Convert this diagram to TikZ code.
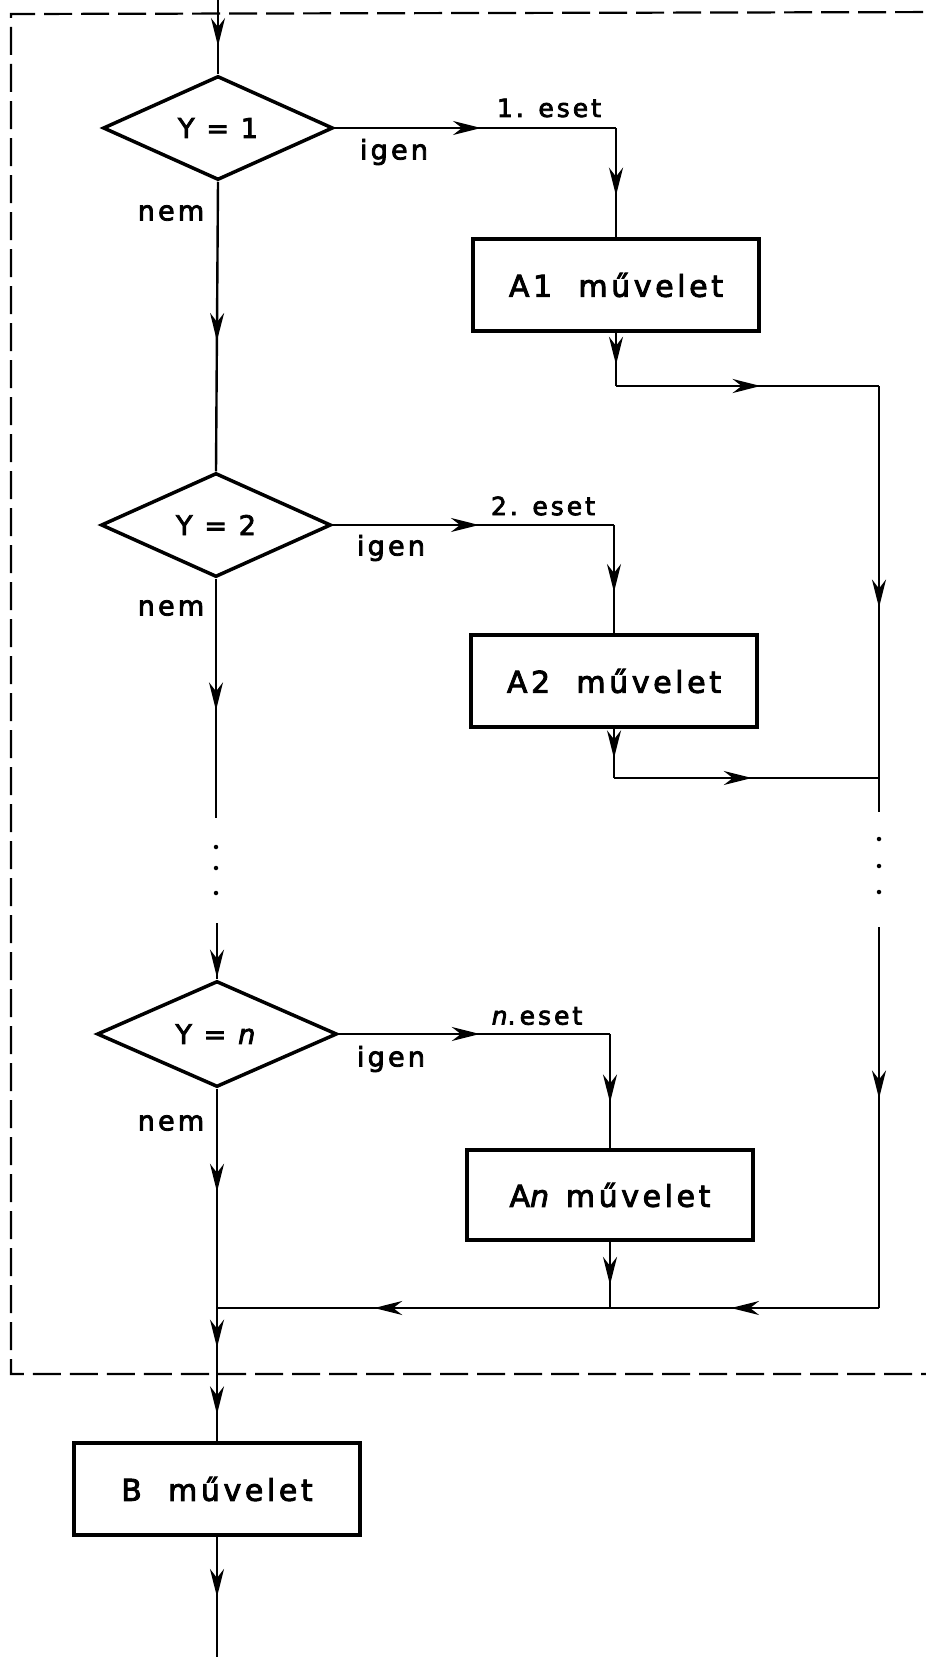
\documentclass[tikz,border=0pt]{standalone}
\usepackage{fontspec}
\setmainfont[LetterSpace=12,FakeBold=3]{DejaVu Sans}
\usetikzlibrary{shapes.geometric,arrows.meta,decorations.markings}
\begin{document}
\begin{tikzpicture}[x=1pt,y=-1pt,
  conn/.style={line width=2.4pt,black},
  midarrow/.style={postaction={decorate},decoration={markings,
     mark=at position #1 with {\arrow{Stealth[length=28pt,width=14pt,inset=9pt]}}}},
  midarrow/.default=0.55,
  decision/.style={draw,line width=3.5pt,diamond,aspect=2.2,inner sep=0pt,
     minimum width=230pt,minimum height=104pt,font=\fontsize{27}{30}\selectfont},
  opbox/.style={draw,line width=3.8pt,rectangle,inner sep=0pt,
     minimum width=286pt,minimum height=92pt,font=\fontsize{30}{34}\selectfont},
  lbl/.style={inner sep=0pt,font=\fontsize{27}{30}\selectfont},
  elbl/.style={inner sep=0pt,font=\fontsize{25}{30}\selectfont},
  dot/.style={circle,fill=black,inner sep=0pt,minimum size=4.5pt},
  dashbox/.style={line width=2.2pt,dash pattern=on 28pt off 9pt}
]
\useasboundingbox (0,0) rectangle (926,1657);
\fill[white] (0,0) rectangle (926,1657);

% dashed frame
\draw[dashbox] (960,12) -- (11,14) -- (11,1374) -- (960,1374);

% nodes
\node[decision] (d1) at (218,128) {Y = 1};
\node[decision] (d2) at (216,525) {Y = 2};
\node[decision,minimum width=240pt,minimum height=106pt] (dn) at (217,1034) {Y = \textit{n}};
\node[opbox] (A1) at (616,285) {A1\ \ művelet};
\node[opbox] (A2) at (614,681) {A2\ \ művelet};
\node[opbox,minimum height=90pt] (An) at (610,1195) {A\textit{n} művelet};
\node[opbox] (B) at (217,1489) {B\ \ művelet};

% labels
\node[elbl] (e1) at (549,108) {1. eset};
\node[lbl] (i1) at (394,152) {igen};
\node[lbl] (n1) at (171,213) {nem};
\node[elbl] (e2) at (543,506) {2. eset};
\node[lbl] (i2) at (391,548) {igen};
\node[lbl] (n2) at (171,608) {nem};
\node[elbl] (en) at (537,1016) {\textit{n}.\,eset};
\node[lbl] (iN) at (391,1059) {igen};
\node[lbl] (nN) at (171,1123) {nem};

% coordinates
\coordinate (top) at (218,0);
\coordinate (r1) at (879,386);
\coordinate (r2) at (879,778);
\coordinate (r1e) at (879,812);
\coordinate (m2e) at (216,818);
\coordinate (m3s) at (217,923);
\coordinate (r3s) at (879,927);
\coordinate (rc) at (879,1308);
\coordinate (mg) at (217,1308);
\coordinate (exit) at (217,1374);
\coordinate (bot) at (217,1657);

% dots
\node[dot] (dl1) at (216,847) {};
\node[dot] (dl2) at (216,868) {};
\node[dot] (dl3) at (216,893) {};
\node[dot] (dr1) at (879,839) {};
\node[dot] (dr2) at (879,866) {};
\node[dot] (dr3) at (879,892) {};

% main line
\draw[conn,midarrow=0.62] (top) -- (d1.north);
\draw[conn,midarrow] (d1.south) -- (d2.north);
\draw[conn,midarrow] (d2.south) -- (m2e);
\draw[conn,midarrow=0.97] (m3s) -- (dn.north);
\draw[conn,midarrow=0.47] (dn.south) -- (mg);
\draw[conn,midarrow=0.6] (mg) -- (exit);
\draw[conn,midarrow=0.6] (exit) -- (B.north);
\draw[conn,midarrow=0.5] (B.south) -- (bot);

% branch 1
\draw[conn,midarrow=0.52] (d1.east) -- (d1.east -| A1.north);
\draw[conn,midarrow=0.62] (d1.east -| A1.north) -- (A1.north);
\draw[conn,midarrow=0.6] (A1.south) -- (A1.south |- r1);
\draw[conn,midarrow=0.55] (A1.south |- r1) -- (r1);
\draw[conn,midarrow=0.52] (r1) -- (r1e);

% branch 2
\draw[conn,midarrow=0.52] (d2.east) -- (d2.east -| A2.north);
\draw[conn,midarrow=0.62] (d2.east -| A2.north) -- (A2.north);
\draw[conn,midarrow=0.6] (A2.south) -- (A2.south |- r2);
\draw[conn,midarrow=0.52] (A2.south |- r2) -- (r2);

% branch n
\draw[conn,midarrow=0.52] (dn.east) -- (dn.east -| An.north);
\draw[conn,midarrow=0.6] (dn.east -| An.north) -- (An.north);
\draw[conn,midarrow=0.65] (An.south) -- (An.south |- rc);
\draw[conn,midarrow=0.45] (r3s) -- (rc);
\draw[conn,midarrow=0.55] (rc) -- (An.south |- rc);
\draw[conn,midarrow=0.6] (An.south |- rc) -- (mg);
\end{tikzpicture}
\end{document}
